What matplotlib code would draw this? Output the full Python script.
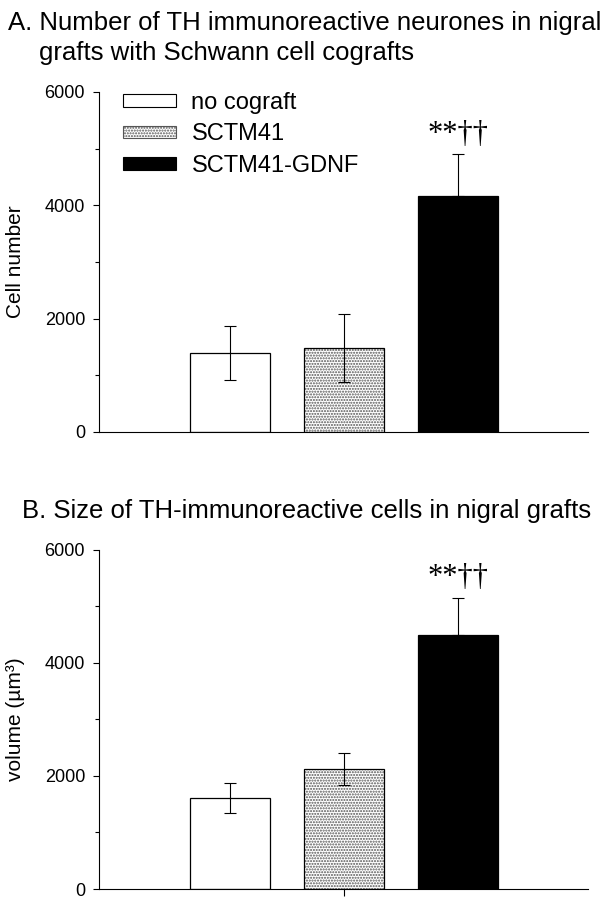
import matplotlib
matplotlib.use('Agg')
import matplotlib.pyplot as plt
from matplotlib.patches import Patch
from matplotlib.ticker import MultipleLocator

plt.rcParams['font.family'] = ['Liberation Sans', 'DejaVu Sans']
plt.rcParams['hatch.linewidth'] = 1.0

# data
groups = ['no cograft', 'SCTM41', 'SCTM41-GDNF']
cell_mean = [1390, 1475, 4165]
cell_err = [480, 600, 735]
vol_mean = [1610, 2120, 4490]
vol_err = [270, 280, 665]
signif = '**††'

x = [0, 1, 2]


def draw_panel(ax, means, errs):
    # plain / stippled / black bars
    ax.bar(x[0], means[0], 0.7, color='white', edgecolor='black', lw=0.9, zorder=2)
    ax.bar(x[1], means[1], 0.7, color='white', edgecolor='#555555', hatch='......', lw=0, zorder=2)
    ax.bar(x[1], means[1], 0.7, fill=False, edgecolor='black', lw=0.9, zorder=3)
    ax.bar(x[2], means[2], 0.7, color='black', edgecolor='black', lw=0.9, zorder=2)
    lower = [errs[0], errs[1], 0]
    ax.errorbar(x, means, yerr=[lower, errs], fmt='none', ecolor='black',
                elinewidth=0.8, capsize=4, capthick=0.8, zorder=4)
    ax.text(x[2], means[2] + errs[2] + 90, signif, ha='center', va='bottom',
            fontsize=22, family=['Liberation Serif', 'DejaVu Serif'])
    ax.set_xlim(-1.15, 3.14)
    ax.set_ylim(0, 6000)
    ax.yaxis.set_major_locator(MultipleLocator(2000))
    ax.yaxis.set_minor_locator(MultipleLocator(1000))
    ax.spines['top'].set_visible(False)
    ax.spines['right'].set_visible(False)
    ax.spines['left'].set_linewidth(0.8)
    ax.spines['bottom'].set_linewidth(0.8)
    ax.tick_params(axis='y', which='major', length=4, width=0.8, pad=6, labelsize=13)
    ax.tick_params(axis='y', which='minor', length=3, width=0.8)


fig = plt.figure(figsize=(6.16, 9), dpi=100)

axA = fig.add_axes([0.1607, 0.52, 0.794, 0.3778])
draw_panel(axA, cell_mean, cell_err)
axA.set_xticks([])
axA.set_ylabel('Cell number', fontsize=15, labelpad=14)

handles = [Patch(facecolor='white', edgecolor='black', lw=0.8),
           Patch(facecolor='white', edgecolor='#555555', hatch='......', lw=0.8),
           Patch(facecolor='black', edgecolor='black', lw=0.8)]
axA.legend(handles, groups, loc='upper left', bbox_to_anchor=(0.049, 1.0),
           frameon=False, fontsize=17, handlelength=2.25, handleheight=0.42,
           handletextpad=0.65, labelspacing=0.4, borderpad=0, borderaxespad=0)

axB = fig.add_axes([0.1607, 0.0122, 0.794, 0.377])
draw_panel(axB, vol_mean, vol_err)
axB.set_xticks([x[1]])
axB.set_xticklabels([''])
axB.tick_params(axis='x', length=5, width=0.8)
axB.set_ylabel('volume (µm³)', fontsize=15, labelpad=14)

fig.text(0.013, 1 - 30 / 900, 'A. Number of TH immunoreactive neurones in nigral',
         fontsize=18.5, va='baseline', ha='left')
fig.text(0.063, 1 - 60 / 900, 'grafts with Schwann cell cografts',
         fontsize=18.5, va='baseline', ha='left')
fig.text(0.036, 1 - 518 / 900, 'B. Size of TH-immunoreactive cells in nigral grafts',
         fontsize=18.5, va='baseline', ha='left')

fig.savefig('out.png', dpi=100)
